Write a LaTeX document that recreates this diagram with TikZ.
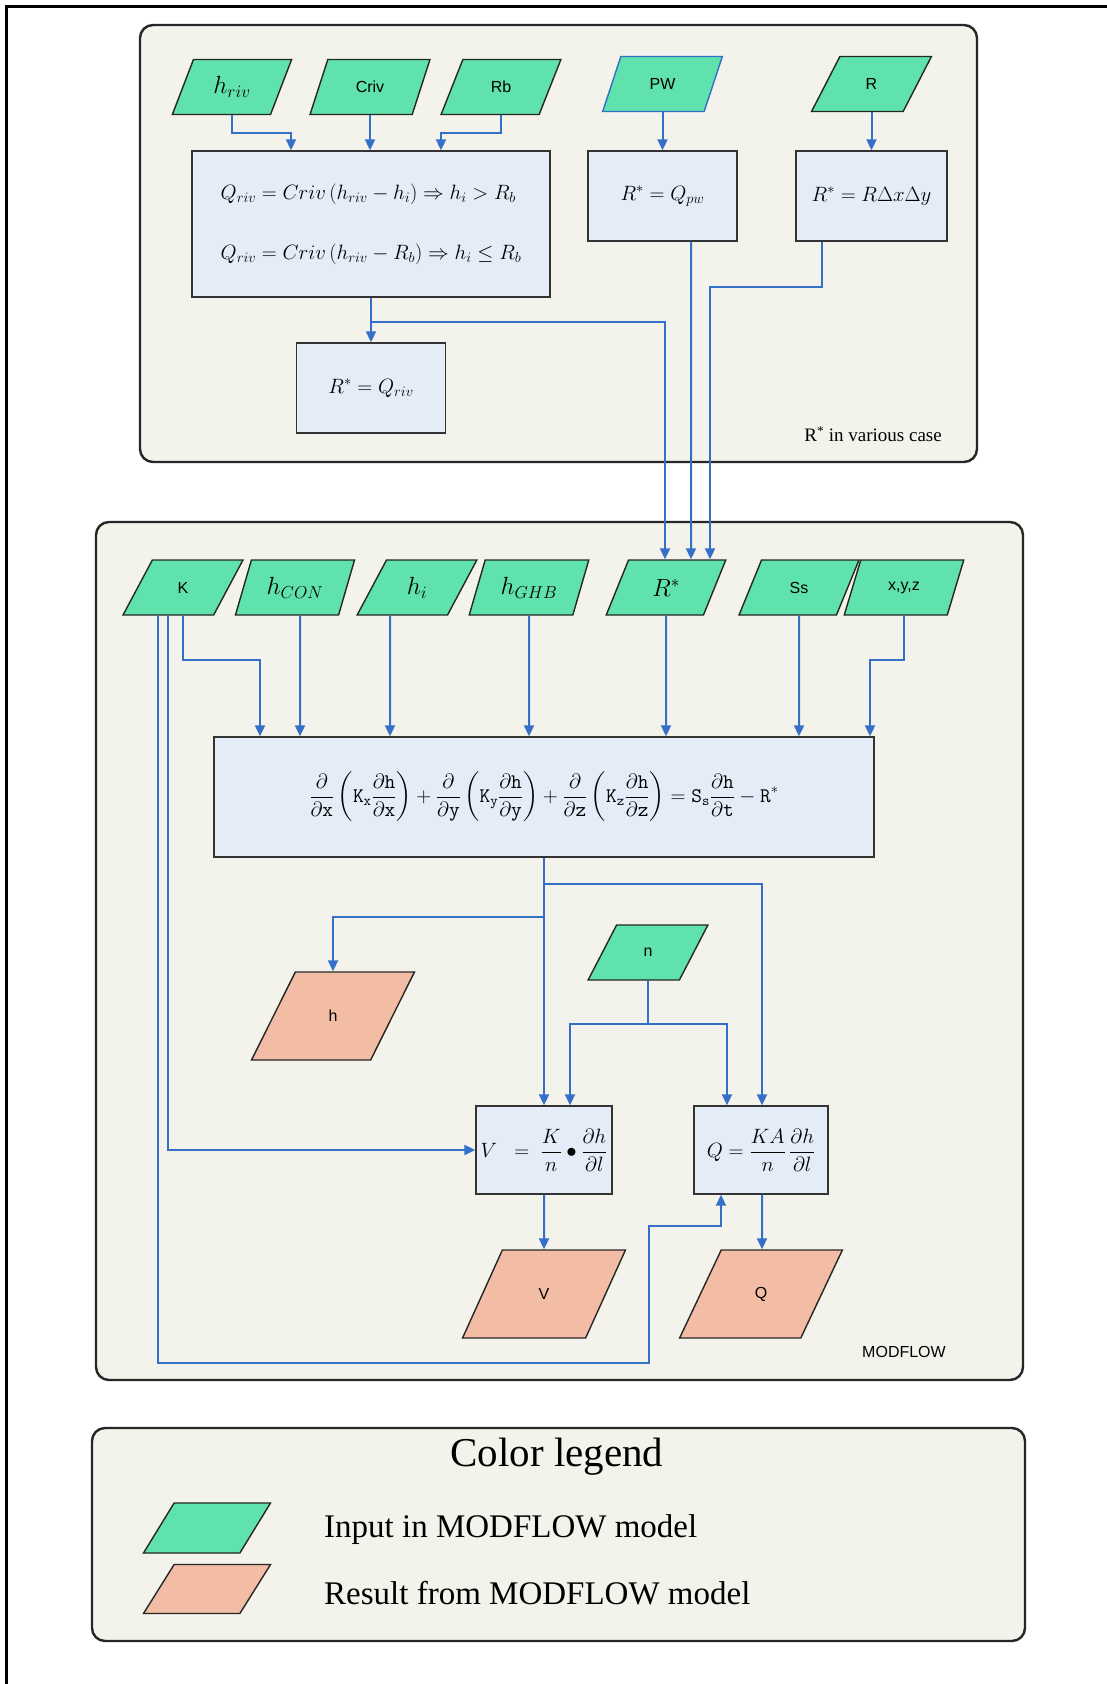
\documentclass[tikz,border=0pt]{standalone}
\usepackage{amsmath}
\usepackage[no-math]{fontspec}
\setmainfont{Liberation Serif}
\newfontfamily\labelsans{Liberation Sans}
\usetikzlibrary{shapes.geometric,arrows.meta,calc}

\definecolor{panelfill}{RGB}{243,243,236}
\definecolor{boxfill}{RGB}{228,236,247}
\definecolor{inputfill}{RGB}{96,226,172}
\definecolor{resultfill}{RGB}{243,188,165}
\definecolor{flowblue}{RGB}{52,112,200}

\newcommand\eqfont{\fontsize{21}{60}\selectfont}
\newcommand\ttv[1]{\mathtt{#1}}

\tikzset{
  panel/.style={draw=black!85, line width=2.4pt, rounded corners=13pt, fill=panelfill},
  calcbox/.style={rectangle, draw=black!80, line width=1.4pt, fill=boxfill, inner sep=0pt, font=\eqfont},
  para/.style={trapezium, trapezium left angle=65, trapezium right angle=115,
    trapezium stretches=true, draw=black!85, line width=1.4pt, inner sep=1pt},
  inp/.style={para, fill=inputfill, minimum width=120pt, minimum height=55pt},
  res/.style={para, fill=resultfill, minimum width=163pt, minimum height=88pt},
  flow/.style={draw=flowblue, line width=2pt},
  arr/.style={flow, -{Triangle[length=11pt,width=10pt]}},
  sanslabel/.style={font=\labelsans\fontsize{16}{18}\selectfont},
  mathlabel/.style={font=\fontsize{23}{25}\selectfont},
}

\begin{document}
\begin{tikzpicture}[x=1pt,y=-1pt]
\useasboundingbox (0,0) rectangle (1107,1684);
\fill[white] (0,0) rectangle (1107,1684);
% outer frame lines
\draw[line width=3pt] (6,1684) -- (6,6) -- (1107,6);

% ---------- panels ----------
\draw[panel] (140,25) rectangle (977,462);
\draw[panel] (96,522) rectangle (1023,1380);
\draw[panel] (92,1428) rectangle (1025,1641);

% ---------- recharge cases ----------
\node[inp, mathlabel] (hriv) at (232,87) {$h_{riv}$};
\node[inp, sanslabel] (criv) at (370,87) {Criv};
\node[inp, sanslabel] (rb) at (501,87) {Rb};
\node[inp, sanslabel, draw=flowblue] (pw) at (662.5,84) {PW};
\node[inp, sanslabel] (r) at (871.5,84) {R};

\node[calcbox, minimum width=358pt, minimum height=146pt, align=left] (rivbox) at (371,224)
  {$Q_{riv} = Criv\left(h_{riv} - h_i\right) \Rightarrow h_i > R_b$\\
   $Q_{riv} = Criv\left(h_{riv} - R_b\right) \Rightarrow h_i \le R_b$};
\node[calcbox, minimum width=149pt, minimum height=90pt] (pwbox) at (662.5,196) {$R^{*} = Q_{pw}$};
\node[calcbox, minimum width=151pt, minimum height=90pt] (rbox) at (871.5,196) {$R^{*} = R\Delta x\Delta y$};
\node[calcbox, minimum width=149pt, minimum height=90pt] (qrivbox) at (371,388) {$R^{*} = Q_{riv}$};

\node[anchor=east, inner sep=0pt, font=\fontsize{19}{21}\selectfont] (caselabel) at (942,434)
  {R\textsuperscript{*} in various case};

\draw[arr] (hriv.south) -- ($(hriv.south)+(0,18)$) -| ($(rivbox.north)+(-80,0)$);
\draw[arr] (criv.south) -- (criv.south |- rivbox.north);
\draw[arr] (rb.south) -- ($(rb.south)+(0,18)$) -| ($(rivbox.north)+(70,0)$);
\draw[arr] (pw.south) -- (pw.south |- pwbox.north);
\draw[arr] (r.south) -- (r.south |- rbox.north);
\draw[arr] (rivbox.south) -- (qrivbox.north);

% ---------- MODFLOW ----------
\node[inp, sanslabel] (K) at (183,587.5) {K};
\node[inp, mathlabel] (hcon) at (295,587.5) {$h_{CON}$};
\node[inp, mathlabel] (hi) at (417,587.5) {$h_i$};
\node[inp, mathlabel] (hghb) at (529,587.5) {$h_{GHB}$};
\node[inp, mathlabel] (rstar) at (666,587.5) {$R^{*}$};
\node[inp, sanslabel] (ss) at (799,587.5) {Ss};
\node[inp, sanslabel] (xyz) at (904,587.5) {x,y,z};

\node[calcbox, minimum width=660pt, minimum height=120pt, font=\fontsize{22}{24}\selectfont] (flowbox) at (544,797)
  {$\displaystyle
   \frac{\partial}{\partial \ttv{x}}\left(\ttv{K}_{\ttv{x}}\frac{\partial \ttv{h}}{\partial \ttv{x}}\right)
   +\frac{\partial}{\partial \ttv{y}}\left(\ttv{K}_{\ttv{y}}\frac{\partial \ttv{h}}{\partial \ttv{y}}\right)
   +\frac{\partial}{\partial \ttv{z}}\left(\ttv{K}_{\ttv{z}}\frac{\partial \ttv{h}}{\partial \ttv{z}}\right)
   =\ttv{S}_{\ttv{s}}\frac{\partial \ttv{h}}{\partial \ttv{t}}-\ttv{R}^{*}$};

\node[inp, sanslabel] (n) at (648,952.5) {n};
\node[res, sanslabel] (hout) at (333,1016) {h};

\node[calcbox, minimum width=136pt, minimum height=88pt, font=\fontsize{21}{24}\selectfont] (vbox) at (544,1150)
  {$\displaystyle V\;\;=\;\frac{K}{n}\bullet\frac{\partial h}{\partial l}$};
\node[calcbox, minimum width=134pt, minimum height=88pt, font=\fontsize{21}{24}\selectfont] (qbox) at (761,1150)
  {$\displaystyle Q=\frac{KA}{n}\,\frac{\partial h}{\partial l}$};

\node[res, sanslabel] (vout) at (544,1294) {V};
\node[res, sanslabel] (qout) at (761,1294) {Q};

\node[sanslabel, inner sep=0pt] (modflowlabel) at (904,1352) {MODFLOW};

% recharge terms into R*
\draw[arr] ($(rivbox.south)+(0,24)$) -| ($(rstar.north)+(-1,0)$);
\draw[arr] ($(pwbox.south)+(28.5,0)$) -- ($(rstar.north)+(25,0)$);
\draw[arr] ($(rbox.south)+(-49.5,0)$) -- ++(0,45) -| ($(rstar.north)+(44,0)$);

% inputs into the flow equation
\draw[arr] (K.south) -- ++(0,44) -| ($(flowbox.north)+(-284,0)$);
\draw[arr] ($(hcon.south)+(5,0)$) -- ($(flowbox.north)+(-244,0)$);
\draw[arr] ($(hi.south)+(-27,0)$) -- ($(flowbox.north)+(-154,0)$);
\draw[arr] (hghb.south) -- ($(flowbox.north)+(-15,0)$);
\draw[arr] (rstar.south) -- ($(flowbox.north)+(122,0)$);
\draw[arr] (ss.south) -- ($(flowbox.north)+(255,0)$);
\draw[arr] (xyz.south) -- ++(0,44) -| ($(flowbox.north)+(326,0)$);

% outputs of the flow equation
\draw[arr] (flowbox.south) -- (vbox.north);
\draw[arr] ($(flowbox.south)+(0,26)$) -| ($(qbox.north)+(1,0)$);
\draw[arr] ($(flowbox.south)+(0,59)$) -| (hout.north);

% porosity
\draw[flow] (n.south) -- ($(n.south)+(0,43)$);
\draw[arr] ($(n.south)+(0,43)$) -| ($(vbox.north)+(26,0)$);
\draw[arr] ($(n.south)+(0,43)$) -| ($(qbox.north)+(-34,0)$);

% conductivity to velocity and discharge
\draw[arr] ($(K.south)+(-15,0)$) |- (vbox.west);
\draw[arr] ($(K.south)+(-25,0)$) -- ++(0,747) -- ++(491,0) -- ++(0,-137) -| ($(qbox.south)+(-40,0)$);

\draw[arr] (vbox.south) -- (vout.north);
\draw[arr] ($(qbox.south)+(1,0)$) -- ($(qout.north)+(1,0)$);

% ---------- legend ----------
\node[font=\fontsize{41}{45}\selectfont] (legendtitle) at (557,1457) {Color legend};
\node[inp, minimum width=127pt, minimum height=50pt] (leginp) at (207,1528) {};
\node[res, minimum width=127pt, minimum height=49pt] (legres) at (207,1589) {};
\node[anchor=west, inner sep=0pt, font=\fontsize{33}{36}\selectfont] (leginptext) at (324,1530) {Input in MODFLOW model};
\node[anchor=west, inner sep=0pt, font=\fontsize{33}{36}\selectfont] (legrestext) at (324,1593) {Result from MODFLOW model};
\end{tikzpicture}
\end{document}
